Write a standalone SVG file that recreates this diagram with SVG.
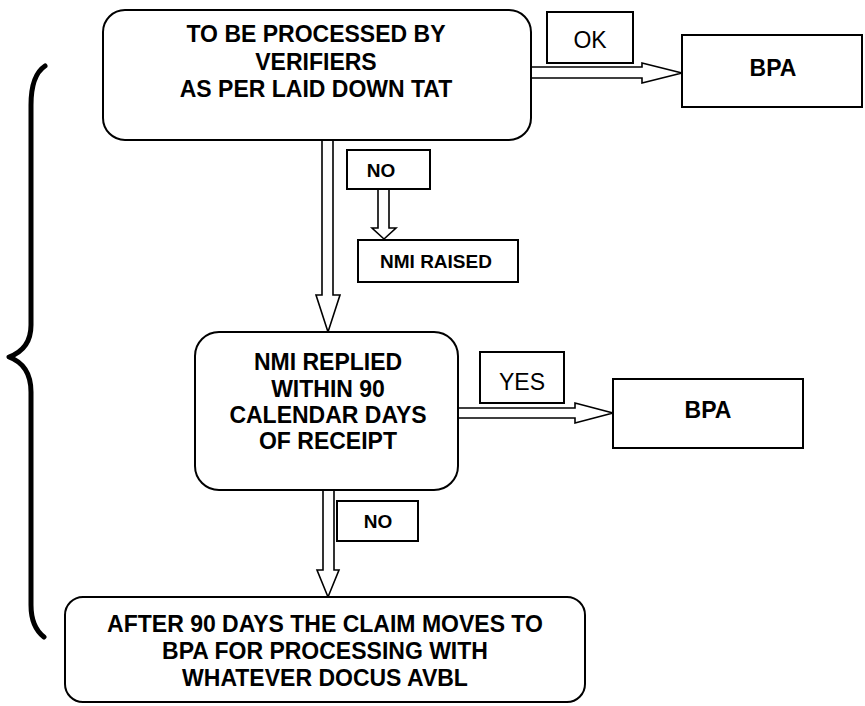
<svg xmlns="http://www.w3.org/2000/svg" width="865" height="706" viewBox="0 0 865 706">
<style>
.box{fill:#fff;stroke:#000;stroke-width:2}
.arr{fill:#fff;stroke:#000;stroke-width:1.6;stroke-linejoin:miter}
.t{font-family:"Liberation Sans",Arial,sans-serif;font-weight:bold;font-size:23px;text-anchor:middle;fill:#000}
.s{font-family:"Liberation Sans",Arial,sans-serif;font-weight:bold;font-size:19px;text-anchor:middle;fill:#000}
.n{font-family:"Liberation Sans",Arial,sans-serif;font-weight:normal;font-size:23px;text-anchor:middle;fill:#000}
.brace{fill:none;stroke:#000;stroke-width:5;stroke-linecap:round;stroke-linejoin:round}
</style>
<rect width="865" height="706" fill="#fff"/>
<g id="connectors">
<path class="arr" d="M531,67 L642,67 L642,63 L682,73 L642,83 L642,78 L531,78"/>
<path class="arr" d="M322,140 L322,295 L316,295 L328,332 L340,295 L333,295 L333,140"/>
<path class="arr" d="M378,189 L378,228 L372,228 L384,239 L396,228 L389,228 L389,189"/>
<path class="arr" d="M458,408 L575,408 L575,403 L613,413 L575,423 L575,418 L458,418"/>
<path class="arr" d="M323,490 L323,570 L317,570 L328,597 L339,570 L334,570 L334,490"/>
</g>
<g id="brace">
<path class="brace" d="M45,66 C36,72 31,85 31,105 L31,325 C31,345 20,353 9,357 C20,361 31,370 31,392 L31,605 C31,620 35,630 44,637"/>
</g>
<g id="verifiers">
<rect class="box" x="103" y="10" width="428" height="130" rx="22"/>
<text class="t" x="316" y="42">TO BE PROCESSED BY</text>
<text class="t" x="316" y="70">VERIFIERS</text>
<text class="t" x="316" y="97">AS PER LAID DOWN TAT</text>
</g>
<g id="ok">
<rect class="box" x="547" y="12" width="86" height="51"/>
<text class="n" x="590" y="48">OK</text>
</g>
<g id="bpa1">
<rect class="box" x="682" y="35" width="180" height="72"/>
<text class="t" x="773" y="76">BPA</text>
</g>
<g id="no1">
<rect class="box" x="347" y="150" width="83" height="39"/>
<text class="s" x="381" y="177">NO</text>
</g>
<g id="nmiraised">
<rect class="box" x="358" y="240" width="160" height="42"/>
<text class="s" x="436" y="268">NMI RAISED</text>
</g>
<g id="nmireplied">
<rect class="box" x="195" y="332" width="263" height="158" rx="24"/>
<text class="t" x="328" y="370">NMI REPLIED</text>
<text class="t" x="328" y="397">WITHIN 90</text>
<text class="t" x="328" y="423">CALENDAR DAYS</text>
<text class="t" x="328" y="449">OF RECEIPT</text>
</g>
<g id="yes">
<rect class="box" x="480" y="352" width="84" height="51"/>
<text class="n" x="522" y="390">YES</text>
</g>
<g id="bpa2">
<rect class="box" x="613" y="379" width="190" height="69"/>
<text class="t" x="708" y="418">BPA</text>
</g>
<g id="no2">
<rect class="box" x="337" y="501" width="81" height="40"/>
<text class="s" x="378" y="528">NO</text>
</g>
<g id="after90">
<rect class="box" x="65" y="597" width="520" height="105" rx="18"/>
<text class="t" x="325" y="632">AFTER 90 DAYS THE CLAIM MOVES TO</text>
<text class="t" x="325" y="659">BPA FOR PROCESSING WITH</text>
<text class="t" x="325" y="686">WHATEVER DOCUS AVBL</text>
</g>
</svg>
